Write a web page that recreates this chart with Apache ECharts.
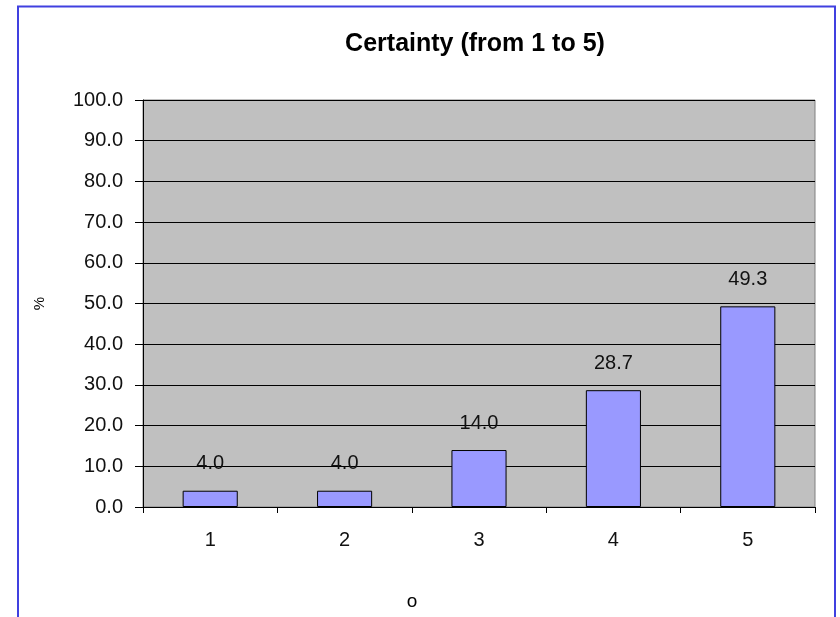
<!DOCTYPE html>
<html>
<head>
<meta charset="utf-8">
<script src="https://cdn.jsdelivr.net/npm/echarts@6/dist/echarts.min.js"></script>
<style>
html,body{margin:0;padding:0;background:#fff;}
#chart{width:840px;height:617px;}
</style>
</head>
<body>
<div id="chart"></div>
<script>
const categories = ['1', '2', '3', '4', '5'];
const values = [4.0, 4.0, 14.0, 28.7, 49.3];
const titleText = 'Certainty (from 1 to 5)';
const yAxisName = '%';
const xAxisName = 'o';

const chart = echarts.init(document.getElementById('chart'), null, {renderer: 'canvas'});
const font = 'Liberation Sans, Arial, sans-serif';
chart.setOption({
  backgroundColor: '#ffffff',
  animation: false,
  textStyle: {fontFamily: font},
  title: {
    text: titleText,
    left: 470, top: 27,
    textAlign: 'center',
    textStyle: {fontSize: 25, fontWeight: 'bold', color: '#000', fontFamily: font}
  },
  graphic: [{
    type: 'rect', silent: true,
    shape: {x: 18, y: 6.5, width: 817, height: 640},
    style: {fill: 'none', stroke: '#4040e0', lineWidth: 2}
  }],
  grid: {
    left: 143, right: 25, top: 100, bottom: 110,
    show: true, backgroundColor: '#c0c0c0', borderColor: '#808080', borderWidth: 1,
    outerBoundsMode: 'none', containLabel: false
  },
  xAxis: {
    type: 'category',
    data: categories,
    name: xAxisName,
    nameLocation: 'middle',
    nameGap: 85,
    nameTextStyle: {fontSize: 19, color: '#000', padding: [0, 134, 0, 0]},
    axisLine: {show: true, lineStyle: {color: '#000', width: 1}},
    axisTick: {show: true, alignWithLabel: false, length: 6, lineStyle: {color: '#000'}},
    axisLabel: {fontSize: 20, color: '#111', margin: 23},
    splitLine: {show: false}
  },
  yAxis: {
    type: 'value',
    min: 0, max: 100, interval: 10,
    name: yAxisName,
    nameLocation: 'middle',
    nameGap: 96,
    nameTextStyle: {fontSize: 15, color: '#000'},
    axisLine: {show: true, lineStyle: {color: '#000', width: 1}},
    axisTick: {show: true, length: 8, lineStyle: {color: '#000'}},
    axisLabel: {fontSize: 20, color: '#111', margin: 20, formatter: v => v.toFixed(1)},
    splitLine: {show: true, lineStyle: {color: '#000', width: 1}}
  },
  series: [{
    type: 'bar',
    data: values,
    barWidth: '41%',
    itemStyle: {color: '#9999ff', borderColor: '#000', borderWidth: 1},
    label: {
      show: true, position: 'top', distance: 17,
      fontSize: 20, color: '#111', fontFamily: font,
      formatter: p => p.value.toFixed(1)
    }
  }]
});
</script>
</body>
</html>
